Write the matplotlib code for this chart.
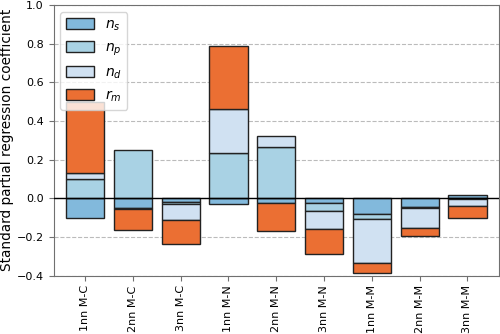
import numpy as np
import matplotlib
matplotlib.use("Agg")
import matplotlib.pyplot as plt

labels = ["1nn M-C", "2nn M-C", "3nn M-C", "1nn M-N", "2nn M-N", "3nn M-N",
          "1nn M-M", "2nn M-M", "3nn M-M"]
n_s = [-0.104, -0.049, -0.017, -0.028, -0.026, -0.023, -0.083, -0.043, 0.016]
n_p = [0.098, 0.250, -0.014, 0.233, 0.267, -0.041, -0.026, -0.005, -0.004]
n_d = [0.032, -0.008, -0.082, 0.230, 0.057, -0.097, -0.228, -0.104, -0.036]
r_m = [0.370, -0.107, -0.125, 0.323, -0.144, -0.125, -0.048, -0.042, -0.064]

series = [("$n_s$", n_s, "#82b9dc"),
          ("$n_p$", n_p, "#a9d2e4"),
          ("$n_d$", n_d, "#d0e1f2"),
          ("$r_m$", r_m, "#eb6f33")]

plt.rcParams["font.size"] = 8

fig, ax = plt.subplots(figsize=(5, 3.34), dpi=100)
x = np.arange(len(labels))
pos_base = np.zeros(len(labels))
neg_base = np.zeros(len(labels))

for name, vals, color in series:
    vals = np.array(vals)
    bottom = np.where(vals >= 0, pos_base, neg_base)
    ax.bar(x, vals, width=0.8, bottom=bottom, color=color,
           edgecolor="#222222", linewidth=1.0, label=name, zorder=3)
    pos_base += np.where(vals >= 0, vals, 0)
    neg_base += np.where(vals < 0, vals, 0)

ax.axhline(0, color="k", linewidth=1.0, zorder=4)
ax.set_xticks(x)
ax.set_xticklabels(labels, rotation=90)
ax.set_xlim(-0.66, len(labels) - 0.34)
ax.set_ylim(-0.4, 1.0)
ax.set_yticks(np.arange(-0.4, 1.01, 0.2))
ax.yaxis.grid(True, linestyle="--", color="#bbbbbb", linewidth=0.8, zorder=0)
ax.set_ylabel("Standard partial regression coefficient", fontsize=9.8, labelpad=2)
for sp in ax.spines.values():
    sp.set_color("#707070")
ax.tick_params(color="#707070")
ax.legend(loc="upper left", fontsize=10, labelspacing=0.55, handlelength=2.0,
          handleheight=0.8, borderaxespad=0.5)

plt.subplots_adjust(left=0.107, right=0.998, top=0.985, bottom=0.175)
fig.savefig("out.png", dpi=100)
